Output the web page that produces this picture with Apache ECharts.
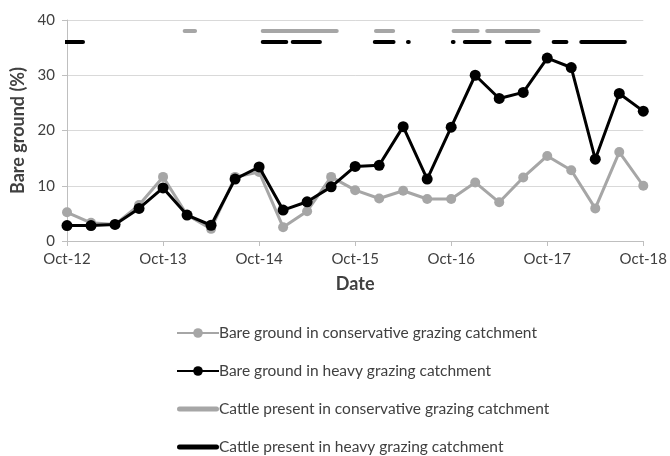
<!DOCTYPE html>
<html>
<head>
<meta charset="utf-8">
<script src="https://cdn.jsdelivr.net/npm/echarts@6/dist/echarts.min.js"></script>
<style>
  html, body { margin: 0; padding: 0; background: #fff; }
  #chart { width: 670px; height: 456px; }
</style>
</head>
<body>
<div id="chart"></div>
<script>
// Quarterly survey dates
const sampleDates = ['Oct-12','Jan-13','Apr-13','Jul-13','Oct-13','Jan-14','Apr-14','Jul-14',
  'Oct-14','Jan-15','Apr-15','Jul-15','Oct-15','Jan-16','Apr-16','Jul-16','Oct-16','Jan-17',
  'Apr-17','Jul-17','Oct-17','Jan-18','Apr-18','Jul-18','Oct-18'];

// Bare ground (%) per catchment
const conservative = [5.2,3.3,3.0,6.5,11.6,4.7,2.2,11.6,12.5,2.5,5.4,11.6,9.2,7.7,9.1,7.6,
  7.6,10.6,7.0,11.5,15.4,12.8,5.9,16.1,10.0];
const heavy = [2.8,2.8,3.0,5.9,9.6,4.7,2.85,11.2,13.4,5.6,7.1,9.8,13.5,13.7,20.7,11.2,
  20.6,30.0,25.8,26.9,33.1,31.4,14.8,26.7,23.5];

// Cattle presence periods, in months since Oct-12 [start, end]
const cattleConservative = [[14.7,16.0],[24.45,33.7],[38.6,40.75],[48.3,51.3],[52.5,58.9]];
const cattleHeavy = [[-1,2.0],[24.45,27.4],[28.2,31.6],[38.45,40.8],[42.6,42.7],[48.2,48.3],
  [49.7,52.8],[54.95,57.8],[60.8,62.4],[64.25,69.7]];
const cattleLevelConservative = 38;
const cattleLevelHeavy = 36;

// Axis tick labels (one per year)
const yearLabels = ['Oct-12','Oct-13','Oct-14','Oct-15','Oct-16','Oct-17','Oct-18'];

const monthIndex = {Jan:0,Feb:1,Mar:2,Apr:3,May:4,Jun:5,Jul:6,Aug:7,Sep:8,Oct:9,Nov:10,Dec:11};
function monthsSinceStart(label) {
  const [m, y] = label.split('-');
  return (parseInt(y, 10) - 12) * 12 + monthIndex[m] - 9;
}
function pairs(values) {
  return values.map((v, i) => [monthsSinceStart(sampleDates[i]), v]);
}
function periods(list, level) {
  const out = [];
  list.forEach(([s, e]) => { out.push([s, level], [e, level], [e, null]); });
  return out;
}

const GRAY = '#a6a6a6';
const TEXT = '#404040';
const FONT = 'Lato';
// Thick rounded bar used as the legend key of the cattle-presence lines
const BAR_ICON = 'path://M2.5,0 L39.5,0 A2.5,2.5 0 0 1 39.5,5 L2.5,5 A2.5,2.5 0 0 1 2.5,0 Z';

const NAMES = [
  'Bare ground in conservative grazing catchment',
  'Bare ground in heavy grazing catchment',
  'Cattle present in conservative grazing catchment',
  'Cattle present in heavy grazing catchment'
];

const chart = echarts.init(document.getElementById('chart'));
chart.setOption({
  animation: false,
  textStyle: { fontFamily: FONT },
  grid: { left: 67, right: 26, top: 20, bottom: 215 },
  legend: {
    orient: 'vertical',
    left: 176,
    top: 325,
    height: 160,
    padding: 0,
    itemWidth: 42,
    itemHeight: 12,
    itemGap: 22,
    textStyle: { fontFamily: FONT, fontSize: 15.5, color: TEXT, padding: [0, 0, 0, -5] },
    data: [
      { name: NAMES[0] },
      { name: NAMES[1] },
      { name: NAMES[2], icon: BAR_ICON },
      { name: NAMES[3], icon: BAR_ICON }
    ]
  },
  xAxis: {
    type: 'value',
    min: 0, max: 72, interval: 12,
    name: 'Date',
    nameLocation: 'middle',
    nameGap: 34,
    nameTextStyle: { fontFamily: FONT, fontSize: 18, fontWeight: 'bold', color: TEXT },
    axisLine: { show: true, lineStyle: { color: '#bfbfbf', width: 1 } },
    axisTick: { show: true, length: 5, lineStyle: { color: '#bfbfbf' } },
    splitLine: { show: false },
    axisLabel: {
      fontFamily: FONT, fontSize: 15, color: TEXT, margin: 11,
      formatter: v => yearLabels[Math.round(v / 12)]
    }
  },
  yAxis: {
    type: 'value',
    min: 0, max: 40, interval: 10,
    name: 'Bare ground (%)',
    nameLocation: 'middle',
    nameGap: 37,
    nameTextStyle: { fontFamily: FONT, fontSize: 18, fontWeight: 'bold', color: TEXT },
    axisLine: { show: true, lineStyle: { color: '#bfbfbf', width: 1 } },
    axisTick: { show: true, length: 5, lineStyle: { color: '#bfbfbf' } },
    splitLine: { show: true, lineStyle: { color: '#d9d9d9', width: 1 } },
    axisLabel: { fontFamily: FONT, fontSize: 15, color: TEXT, margin: 12 }
  },
  series: [
    {
      name: NAMES[0],
      type: 'line',
      data: pairs(conservative),
      symbol: 'circle',
      symbolSize: 10,
      itemStyle: { color: GRAY },
      lineStyle: { color: GRAY, width: 3 },
      z: 2
    },
    {
      name: NAMES[1],
      type: 'line',
      data: pairs(heavy),
      symbol: 'circle',
      symbolSize: 11,
      itemStyle: { color: '#000' },
      lineStyle: { color: '#000', width: 3 },
      z: 3
    },
    {
      name: NAMES[2],
      type: 'line',
      data: periods(cattleConservative, cattleLevelConservative),
      symbol: 'none',
      connectNulls: false,
      clip: true,
      itemStyle: { color: GRAY },
      lineStyle: { color: GRAY, width: 4, cap: 'round' },
      z: 2
    },
    {
      name: NAMES[3],
      type: 'line',
      data: periods(cattleHeavy, cattleLevelHeavy),
      symbol: 'none',
      connectNulls: false,
      clip: true,
      itemStyle: { color: '#000' },
      lineStyle: { color: '#000', width: 4, cap: 'round' },
      z: 3
    }
  ]
});
</script>
</body>
</html>
